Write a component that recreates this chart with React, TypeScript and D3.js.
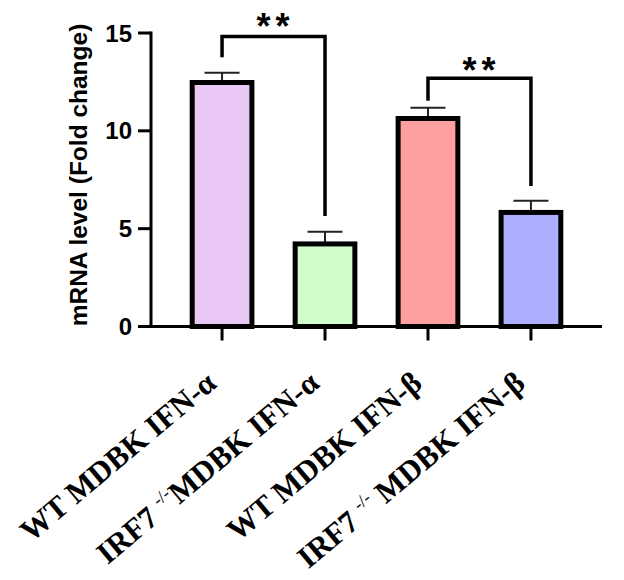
import React from 'react';
import * as d3 from 'd3';

// Data

const categories = ['WT MDBK IFN-α', 'IRF7 -/-MDBK IFN-α', 'WT MDBK IFN-β', 'IRF7 -/- MDBK IFN-β'];
const labelParts: [string, string, string][] = [
    ['WT MDBK IFN-α', '', ''],
    ['IRF7 ', '-/-', 'MDBK IFN-α'],
    ['WT MDBK IFN-β', '', ''],
    ['IRF7 ', '-/-', ' MDBK IFN-β'],
];
const means = [12.47, 4.22, 10.63, 5.83];
const errors = [0.5, 0.62, 0.55, 0.6];
const fills = ['#EAC8F5', '#CFFECC', '#FFA0A0', '#AEAEFF'];
const yTicks = [0, 5, 10, 15];

// significance brackets: [left bar, right bar, top, left leg end, right leg end]
const brackets: [number, number, number, number, number][] = [
    [0, 1, 14.82, 13.76, 5.65],
    [2, 3, 12.69, 11.54, 7.18],
];
const bracketText = ['**', '**'];

const width = 624;
const height = 580;
const axisX = 151;
const axisRight = 602;

function App() {
    const y = d3.scaleLinear().domain([0, 15]).range([326.5, 33]);
    const x = d3.scaleBand<string>()
        .domain(categories)
        .range([axisX, axisRight])
        .paddingInner(0.42)
        .paddingOuter(0.4);
    const bw = x.bandwidth();
    const cx = (i: number) => (x(categories[i]) as number) + bw / 2;
    const sans = '"Liberation Sans", Arial, sans-serif';
    const serif = '"Liberation Serif", "Times New Roman", serif';

    return (
        <svg width={width} height={height} style={{ position: 'absolute', left: 0, top: 0, background: '#fff' }}>
            {/* y axis label */}
            <text transform="translate(87,175) rotate(-90)" textAnchor="middle"
                fontFamily={sans} fontWeight="bold" fontSize={24.5}>mRNA level (Fold change)</text>

            {/* y axis */}
            <line x1={axisX} x2={axisX} y1={y(15) - 1.5} y2={y(0) + 1.5} stroke="#000" strokeWidth={3} />
            {yTicks.map((t) => (
                <g key={t} transform={`translate(0,${y(t)})`}>
                    <line x1={axisX - 13} x2={axisX} stroke="#000" strokeWidth={3} />
                    <text x={132} dy="0.36em" textAnchor="end" fontFamily={sans}
                        fontWeight="bold" fontSize={24}>{t}</text>
                </g>
            ))}

            {/* error bars */}
            {means.map((m, i) => (
                <g key={'e' + i} stroke="#222" strokeWidth={2}>
                    <line x1={cx(i)} x2={cx(i)} y1={y(m)} y2={y(m + errors[i])} />
                    <line x1={cx(i) - 17.5} x2={cx(i) + 17.5} y1={y(m + errors[i])} y2={y(m + errors[i])} />
                </g>
            ))}

            {/* bars */}
            {means.map((m, i) => (
                <rect key={'b' + i} x={x(categories[i])} width={bw} y={y(m)} height={y(0) - y(m)}
                    fill={fills[i]} stroke="#000" strokeWidth={5} />
            ))}

            {/* x axis */}
            <line x1={axisX - 1.5} x2={axisRight} y1={y(0)} y2={y(0)} stroke="#000" strokeWidth={3} />
            {categories.map((c, i) => (
                <line key={'t' + i} x1={cx(i)} x2={cx(i)} y1={y(0)} y2={y(0) + 14} stroke="#000" strokeWidth={3} />
            ))}

            {/* x labels */}
            {labelParts.map((p, i) => (
                <text key={'l' + i} transform={`translate(${cx(i) - 4},386) rotate(-40)`} textAnchor="end"
                    fontFamily={serif} fontWeight="bold" fontSize={31}>
                    {p[0]}
                    {p[1] && <tspan fontSize={18} fontWeight="normal" dy={-12}>{p[1]}</tspan>}
                    {p[1] && <tspan dy={12}>{p[2]}</tspan>}
                </text>
            ))}

            {/* significance */}
            {brackets.map(([a, b, top, la, lb], i) => {
                const path = d3.path();
                path.moveTo(cx(a), y(la));
                path.lineTo(cx(a), y(top));
                path.lineTo(cx(b), y(top));
                path.lineTo(cx(b), y(lb));
                return (
                    <g key={'s' + i}>
                        <path d={path.toString()} fill="none" stroke="#000" strokeWidth={3.5} />
                        <text x={(cx(a) + cx(b)) / 2 + 2} y={y(top) + 2 + i * 2.5} textAnchor="middle"
                            fontFamily={sans} fontWeight="bold" fontSize={36} letterSpacing={5}>{bracketText[i]}</text>
                    </g>
                );
            })}
        </svg>
    );
}

export default App;
